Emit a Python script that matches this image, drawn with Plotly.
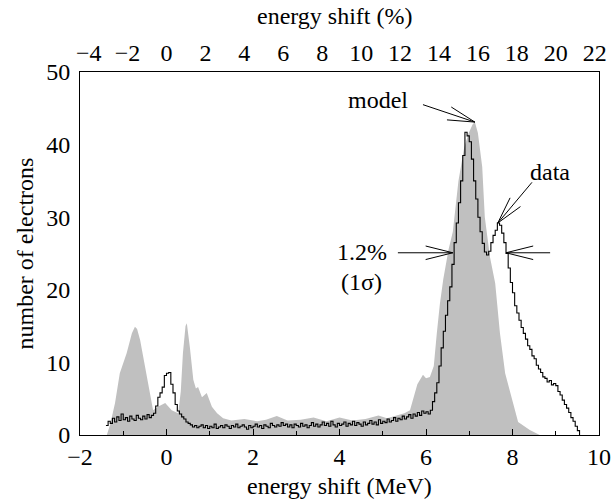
import math
import plotly.graph_objects as go

# ---------------- data ----------------
# model (grey filled) spectrum: energy shift (MeV) and number of electrons
model_mev = [-1.38, -1.30, -1.19, -1.08, -0.92, -0.80, -0.73, -0.68, -0.61, -0.50,
             -0.38, -0.31, -0.20, -0.03, 0.12, 0.27, 0.33, 0.38, 0.44, 0.47,
             0.54, 0.62, 0.68, 0.73, 0.82, 0.93, 1.05, 1.17, 1.31, 1.50,
             1.80, 2.10, 2.30, 2.55, 2.80, 3.10, 3.40, 3.70, 4.00, 4.30,
             4.60, 4.90, 5.10, 5.30, 5.50, 5.63, 5.70, 5.80, 5.93, 6.00,
             6.09, 6.18, 6.25, 6.32, 6.40, 6.52, 6.62, 6.75, 6.88, 6.98,
             7.08, 7.13, 7.20, 7.30, 7.36, 7.48, 7.60, 7.71, 7.83, 7.99,
             8.13, 8.40, 8.63]
model_counts = [0.0, 1.5, 4.4, 8.5, 11.3, 14.0, 14.9, 14.6, 13.1, 9.4,
                5.2, 3.4, 3.9, 4.4, 3.4, 3.0, 6.0, 11.3, 15.0, 15.4,
                12.1, 7.6, 6.4, 6.6, 5.2, 5.8, 3.9, 3.0, 2.3, 2.0,
                2.2, 1.9, 2.1, 2.6, 2.0, 2.1, 2.4, 1.9, 2.4, 2.0,
                2.2, 2.7, 2.3, 2.6, 3.0, 3.4, 4.8, 7.0, 8.3, 7.8,
                8.0, 9.5, 14.0, 18.0, 21.5, 25.5, 28.0, 35.0, 39.5, 41.5,
                42.8, 43.1, 41.6, 36.9, 30.0, 24.5, 20.9, 14.0, 8.5, 4.8,
                1.8, 0.7, 0.0]

# measured data (black histogram), bins of 0.05 MeV starting at -1.40 MeV
data_start_mev = -1.40
data_bin_mev = 0.05
data_counts = [
    1.3, 1.9, 1.6, 2.3, 1.8, 2.5, 2.0, 2.9, 2.1, 2.4, 1.9, 2.6, 2.2, 2.0, 2.7, 2.3, 2.1, 2.6, 2.2, 2.8,
    2.4, 2.7, 3.0, 4.0, 5.2, 5.8, 6.6, 8.2, 8.5, 8.6, 7.0, 5.8, 4.2, 3.3, 2.9, 2.5, 2.2, 1.8, 1.6, 1.4,
    1.1, 1.3, 1.0, 1.2, 1.4, 1.0, 1.3, 0.9, 1.2, 1.0, 1.5, 0.9, 1.1, 1.3, 1.0, 1.4, 1.2, 0.9, 1.3, 1.1,
    1.5, 1.0, 1.2, 1.4, 1.1, 0.8, 1.3, 1.0, 1.2, 1.5, 1.1, 1.3, 0.9, 1.4, 1.2, 1.0, 1.6, 1.3, 1.1, 1.4,
    1.2, 1.7, 1.3, 1.5, 1.1, 1.4, 1.0, 1.5, 1.3, 1.1, 1.6, 1.2, 1.4, 1.0, 1.3, 1.7, 1.2, 1.5, 1.1, 1.4,
    1.8, 1.3, 1.6, 1.2, 1.9, 1.4, 1.1, 1.6, 1.3, 1.5, 1.8, 1.2, 1.6, 1.4, 1.9, 1.3, 1.7, 1.5, 1.2, 1.8,
    1.4, 1.6, 2.0, 1.5, 1.8, 1.4, 2.1, 1.6, 1.9, 1.7, 2.2, 1.8, 2.0, 2.4, 1.9, 2.3, 2.1, 2.6, 2.2, 2.5,
    2.8, 2.3, 2.9, 2.6, 3.1, 2.7, 3.3, 3.0, 3.2, 2.9, 3.4, 4.6, 5.8, 7.2, 9.5, 12.0, 14.3, 16.5, 18.5, 20.4,
    23.5, 26.5, 29.2, 32.0, 35.0, 38.5, 41.7, 41.2, 40.4, 38.0, 35.0, 32.5, 30.0, 28.0, 26.4, 25.2, 24.8, 25.3, 26.5, 27.5,
    28.2, 29.2, 28.9, 27.8, 26.5, 25.0, 23.0, 21.0, 19.6, 17.8, 16.8, 15.8, 14.8, 14.0, 13.2, 12.3, 11.8, 10.9, 10.5, 9.6,
    9.1, 8.6, 8.0, 7.8, 7.3, 7.5, 6.9, 7.1, 6.8, 6.0, 5.5, 4.8, 4.2, 3.7, 3.1, 2.4, 1.9, 1.2, 0.6, 0.0,
]
data_mev = [round(data_start_mev + data_bin_mev * i, 3) for i in range(len(data_counts))]

# axis definitions
x_range_mev = [-2, 10]
y_range = [0, 50]
beam_energy_mev = 45.0  # top axis: energy shift in % of 45 MeV
x_range_pct = [100 * v / beam_energy_mev for v in x_range_mev]

# annotation texts/positions (data coordinates)
labels = [
    ("model", 4.90, 46.1),
    ("data", 8.87, 36.2),
    ("1.2%", 4.51, 25.2),
    ("(1σ)", 4.50, 21.1),
]
# arrows: (tail, tip) in data coordinates
arrows = [
    ((5.93, 45.5), (7.13, 43.1)),
    ((8.45, 34.8), (7.66, 29.2)),
    ((5.35, 25.1), (6.62, 25.1)),
    ((8.87, 25.1), (7.85, 25.1)),
]

# ---------------- figure ----------------
W, H = 612, 500
ML, MR, MT, MB = 80, 13, 72, 65
plot_w = W - ML - MR
plot_h = H - MT - MB
px_per_x = plot_w / (x_range_mev[1] - x_range_mev[0])
px_per_y = plot_h / (y_range[1] - y_range[0])

FONT = "Liberation Serif, Times New Roman, serif"
FS = 24

fig = go.Figure()
fig.add_trace(go.Scatter(x=model_mev, y=model_counts, mode="lines", fill="tozeroy",
                         fillcolor="#c0c0c0", line=dict(width=0, color="#c0c0c0"),
                         hoverinfo="skip", showlegend=False))
fig.add_trace(go.Scatter(x=data_mev, y=data_counts, mode="lines",
                         line=dict(color="black", width=1.1, shape="hv"),
                         showlegend=False))
# invisible trace to carry the top axis
fig.add_trace(go.Scatter(x=x_range_pct, y=[None, None], xaxis="x2", mode="lines",
                         showlegend=False, hoverinfo="skip"))

# arrows with open barbs
barb_len = 28.0
barb_ang = math.radians(14)
ax_x, ax_y = [], []
for (tx, ty), (hx, hy) in arrows:
    ax_x += [tx, hx, None]
    ax_y += [ty, hy, None]
    dxp = (tx - hx) * px_per_x
    dyp = (ty - hy) * px_per_y
    n = math.hypot(dxp, dyp)
    ux, uy = dxp / n, dyp / n
    for s in (1, -1):
        c, si = math.cos(s * barb_ang), math.sin(s * barb_ang)
        rx = ux * c - uy * si
        ry = ux * si + uy * c
        bx = hx + rx * barb_len / px_per_x
        by = hy + ry * barb_len / px_per_y
        ax_x += [hx, bx, None]
        ax_y += [hy, by, None]
fig.add_trace(go.Scatter(x=ax_x, y=ax_y, mode="lines",
                         line=dict(color="black", width=1),
                         showlegend=False, hoverinfo="skip"))

for text, x, y in labels:
    fig.add_annotation(x=x, y=y, text=text, showarrow=False,
                       font=dict(family=FONT, size=FS, color="black"),
                       xanchor="center", yanchor="middle")

# axis titles placed in page pixel positions
def paper_x(px):
    return (px - ML) / plot_w

def paper_y(py):
    return (H - MB - py) / plot_h

fig.add_annotation(xref="paper", yref="paper", x=paper_x(ML + plot_w / 2), y=paper_y(486),
                   text="energy shift (MeV)", showarrow=False,
                   font=dict(family=FONT, size=FS), xanchor="center", yanchor="middle")
fig.add_annotation(xref="paper", yref="paper", x=paper_x(ML + plot_w / 2 - 5), y=paper_y(16),
                   text="energy shift (%)", showarrow=False,
                   font=dict(family=FONT, size=FS), xanchor="center", yanchor="middle")
fig.add_annotation(xref="paper", yref="paper", x=paper_x(24), y=paper_y(MT + plot_h / 2),
                   text="number of electrons", showarrow=False, textangle=-90,
                   font=dict(family=FONT, size=FS), xanchor="center", yanchor="middle")

fig.update_layout(
    width=W, height=H,
    margin=dict(l=ML, r=MR, t=MT, b=MB, autoexpand=False),
    paper_bgcolor="white", plot_bgcolor="white",
    font=dict(family=FONT, size=FS, color="black"),
    showlegend=False,
    xaxis=dict(range=x_range_mev, dtick=2, tick0=0, showgrid=False, zeroline=False,
               showline=True, linecolor="black", linewidth=1, automargin=False,
               ticks="inside", ticklen=6, tickcolor="black",
               minor=dict(dtick=1, ticks="inside", ticklen=4, tickcolor="black", showgrid=False)),
    xaxis2=dict(range=x_range_pct, overlaying="x", side="top", dtick=2, tick0=0,
                showgrid=False, zeroline=False, showline=True, linecolor="black", linewidth=1,
                ticks="", automargin=False),
    yaxis=dict(range=y_range, dtick=10, showgrid=False, zeroline=False, automargin=False,
               showline=True, linecolor="black", linewidth=1, mirror=True, ticks="",
               ticklabelstandoff=4),
)

fig.write_html("out.html", config={"displayModeBar": False},
               post_script="document.body.style.margin='0px';")
